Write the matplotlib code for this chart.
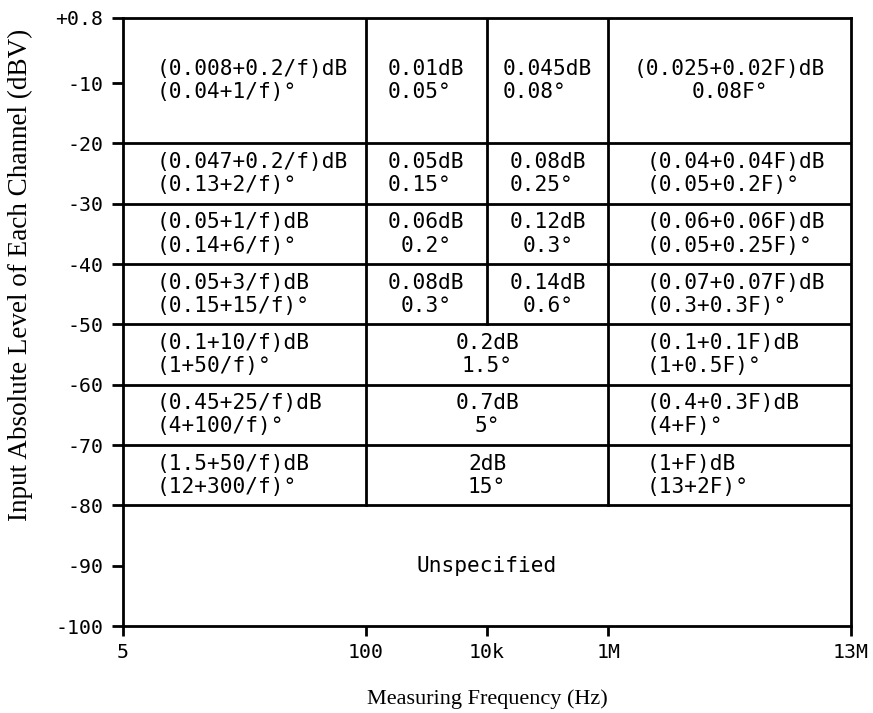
import numpy as np
import matplotlib
matplotlib.use("Agg")
import matplotlib.pyplot as plt

# Frequency break points (Hz) and their tick labels
freq_edges = [5, 100, 1e4, 1e6, 13e6]
freq_labels = ["5", "100", "10k", "1M", "13M"]

# Input level band edges (dBV), top to bottom
level_edges = [0.8, -20, -30, -40, -50, -60, -70, -80, -100]
level_ticks = [0.8, -10, -20, -30, -40, -50, -60, -70, -80, -90, -100]
level_labels = ["+0.8", "-10", "-20", "-30", "-40", "-50", "-60", "-70", "-80", "-90", "-100"]

# Accuracy for 5 Hz - 100 Hz, one entry per band
band_5_100 = [
    "(0.008+0.2/f)dB\n(0.04+1/f)°",
    "(0.047+0.2/f)dB\n(0.13+2/f)°",
    "(0.05+1/f)dB\n(0.14+6/f)°",
    "(0.05+3/f)dB\n(0.15+15/f)°",
    "(0.1+10/f)dB\n(1+50/f)°",
    "(0.45+25/f)dB\n(4+100/f)°",
    "(1.5+50/f)dB\n(12+300/f)°",
]
# 100 Hz - 10 kHz and 10 kHz - 1 MHz, upper four bands
band_100_10k = ["0.01dB\n0.05°", "0.05dB\n0.15°", "0.06dB\n0.2°", "0.08dB\n0.3°"]
band_10k_1M = ["0.045dB\n0.08°", "0.08dB\n0.25°", "0.12dB\n0.3°", "0.14dB\n0.6°"]
# 100 Hz - 1 MHz, lower three bands
band_100_1M = ["0.2dB\n1.5°", "0.7dB\n5°", "2dB\n15°"]
# 1 MHz - 13 MHz
band_1M_13M = [
    "(0.025+0.02F)dB\n0.08F°",
    "(0.04+0.04F)dB\n(0.05+0.2F)°",
    "(0.06+0.06F)dB\n(0.05+0.25F)°",
    "(0.07+0.07F)dB\n(0.3+0.3F)°",
    "(0.1+0.1F)dB\n(1+0.5F)°",
    "(0.4+0.3F)dB\n(4+F)°",
    "(1+F)dB\n(13+2F)°",
]
unspecified = "Unspecified"

# Piecewise frequency axis: each break point sits at a fixed slot
slots = [0, 2, 3, 4, 6]
log_edges = np.log10(freq_edges)


def forward(f):
    f = np.clip(np.asarray(f, dtype=float), 1e-3, None)
    return np.interp(np.log10(f), log_edges, slots)


def inverse(x):
    return 10 ** np.interp(np.asarray(x, dtype=float), slots, log_edges)


def mid(f0, f1):
    return float(inverse((forward(f0) + forward(f1)) / 2))


mono = "DejaVu Sans Mono"
serif = "Liberation Serif"
fs = 15.2
ls = 1.2
lw = 2.0

fig = plt.figure(figsize=(8.73, 7.13), dpi=100)
ax = fig.add_axes([0.1409, 0.122, 0.8339, 0.8528])
ax.set_xscale("function", functions=(forward, inverse))
ax.set_xlim(freq_edges[0], freq_edges[-1])
ax.set_ylim(level_edges[-1], level_edges[0])

for s in ax.spines.values():
    s.set_linewidth(lw)

# Band boundaries across the full range
for y in level_edges[1:-1]:
    ax.plot([freq_edges[0], freq_edges[-1]], [y, y], color="black", lw=lw,
            solid_capstyle="butt")
# Column boundaries
ax.plot([100, 100], [level_edges[0], -80], color="black", lw=lw)
ax.plot([1e4, 1e4], [level_edges[0], -50], color="black", lw=lw)
ax.plot([1e6, 1e6], [level_edges[0], -80], color="black", lw=lw)

centers = [(level_edges[i] + level_edges[i + 1]) / 2 for i in range(len(level_edges) - 1)]

for i, txt in enumerate(band_5_100):
    ax.annotate(txt, xy=(freq_edges[0], centers[i]), xytext=(34, 0),
                textcoords="offset pixels", ha="left", va="center",
                family=mono, fontsize=fs, linespacing=ls)

for i, (a, b) in enumerate(zip(band_100_10k, band_10k_1M)):
    align = "left" if i < 2 else "center"
    ax.text(mid(100, 1e4), centers[i], a, ha="center", va="center",
            multialignment=align, family=mono, fontsize=fs, linespacing=ls)
    ax.text(mid(1e4, 1e6), centers[i], b, ha="center", va="center",
            multialignment=align, family=mono, fontsize=fs, linespacing=ls)

for i, txt in enumerate(band_100_1M):
    ax.text(mid(100, 1e6), centers[4 + i], txt, ha="center", va="center",
            multialignment="center", family=mono, fontsize=fs, linespacing=ls)

for i, txt in enumerate(band_1M_13M):
    if i == 0:
        ax.text(mid(1e6, 13e6), centers[i], txt, ha="center", va="center",
                multialignment="center", family=mono, fontsize=fs, linespacing=ls)
    else:
        ax.annotate(txt, xy=(1e6, centers[i]), xytext=(38, 0),
                    textcoords="offset pixels", ha="left", va="center",
                    family=mono, fontsize=fs, linespacing=ls)

ax.text(mid(freq_edges[0], freq_edges[-1]), centers[-1], unspecified,
        ha="center", va="center", family=mono, fontsize=fs)

ax.set_xticks(freq_edges)
ax.set_xticklabels(freq_labels)
ax.xaxis.set_minor_locator(matplotlib.ticker.NullLocator())
ax.set_yticks(level_ticks)
ax.set_yticklabels(level_labels)
ax.tick_params(axis="y", direction="out", length=8, width=lw, pad=6)
ax.tick_params(axis="x", direction="out", length=7, width=lw, pad=5)
for lab in ax.get_xticklabels() + ax.get_yticklabels():
    lab.set_family(mono)
    lab.set_fontsize(14.3)

ax.set_xlabel("Measuring Frequency (Hz)", family=serif, fontsize=16)
ax.set_ylabel("Input Absolute Level of Each Channel (dBV)", family=serif, fontsize=19.5)
ax.xaxis.set_label_coords(0.5, -0.104)
ax.yaxis.set_label_coords(-0.124, 0.577)

fig.savefig("out.png", dpi=100)
